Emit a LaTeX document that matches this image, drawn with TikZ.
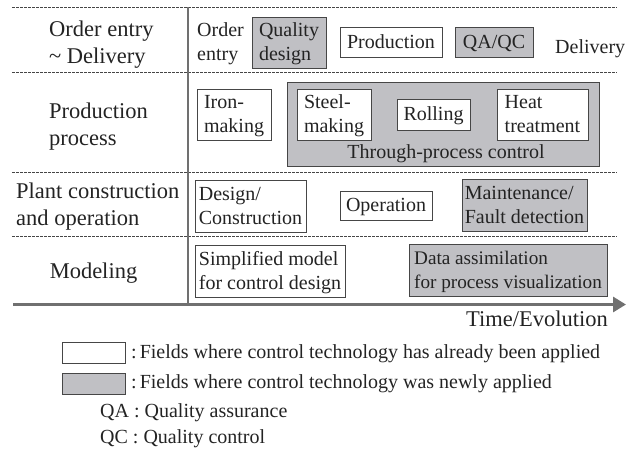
\documentclass[tikz,border=0pt]{standalone}
\usepackage{fontspec}
\setmainfont{Liberation Serif}
\usetikzlibrary{arrows.meta}
\definecolor{boxgray}{RGB}{192,192,196}
\definecolor{linegray}{RGB}{112,112,112}
\definecolor{edgegray}{RGB}{70,70,70}
\definecolor{txt}{RGB}{35,35,35}
\newcommand\tstr{\rule{0pt}{19.8pt}}
\begin{document}
\begin{tikzpicture}[x=1pt,y=-1pt,
  lab/.style={font=\fontsize{22.5}{27}\selectfont, text=txt, inner sep=0pt, align=left},
  btxt/.style={font=\fontsize{20}{24}\selectfont, text=txt, inner sep=0pt, align=left},
  leg/.style={font=\fontsize{20}{24}\selectfont, text=txt, inner sep=0pt},
  wshape/.style={draw=edgegray, line width=1pt, fill=white, inner sep=0pt},
  gshape/.style={draw=edgegray, line width=1pt, fill=boxgray, inner sep=0pt},
  wbox/.style={wshape, btxt},
  gbox/.style={gshape, btxt},
  sepline/.style={draw=edgegray, line width=0.7pt, dash pattern=on 2.5pt off 1.5pt},
]
\useasboundingbox (0,0) rectangle (631,450);

% row separators
\foreach \yy in {7,72,172,236} \draw[sepline] (12,\yy) -- (617,\yy);

% axes
\coordinate (vtop) at (188,7);
\coordinate (vbot) at (188,305);
\coordinate (hst) at (13,304.5);
\coordinate (hend) at (626,304.5);
\draw[linegray, line width=2.2pt] (vtop) -- (vbot);
\draw[linegray, line width=3pt, -{Triangle[length=13pt,width=15pt]}] (hst) -- (hend);

% left labels
\node[lab, anchor=north west] (l1) at (49,17.1) {\strut Order entry\\\strut\textasciitilde\ Delivery};
\node[lab, anchor=north west] (l2) at (49,99.1) {\strut Production\\\strut process};
\node[lab, anchor=north west] (l3) at (16,179.1) {\strut Plant construction\\\strut and operation};
\node[lab, anchor=base] (l4) at (93.5,278) {Modeling};
\node[lab, anchor=base east] (te) at (608,326) {Time/Evolution};

% row 1
\node[btxt, anchor=north west] (oe) at (197,19.2) {\strut Order\\\strut entry};
\node[gbox, minimum width=74pt, minimum height=51pt] (qd) at (289,42.5) {\tstr Quality\\\strut design};
\node[wbox, minimum width=102pt, minimum height=30pt] (prod) at (391,42) {\tstr\strut Production};
\node[gbox, minimum width=78pt, minimum height=30pt] (qaqc) at (494,42) {\tstr\strut QA/QC};
\node[btxt, anchor=base west] (deliv) at (555,53) {Delivery};

% row 2
\node[wbox, minimum width=74pt, minimum height=51pt] (iron) at (234,114.5) {\tstr Iron-\\\strut making};
\node[gshape, minimum width=312pt, minimum height=84pt] (tpc) at (443,124) {};
\node[wbox, minimum width=74pt, minimum height=51pt] (steel) at (334,114.5) {\tstr Steel-\\\strut making};
\node[wbox, minimum width=73pt, minimum height=31pt] (roll) at (433.5,114.5) {\tstr\strut Rolling};
\node[wbox, minimum width=91pt, minimum height=51pt] (heat) at (542.5,114.5) {\tstr Heat\\\strut treatment};
\node[btxt, anchor=base] (tpcl) at (446,158) {Through-process control};

% row 3
\node[wbox, minimum width=111pt, minimum height=52pt] (des) at (250.5,206) {\tstr Design/\\\strut Construction};
\node[wbox, minimum width=92pt, minimum height=29pt] (oper) at (386,205.5) {\tstr\strut Operation};
\node[gbox, minimum width=125pt, minimum height=52pt] (maint) at (524.5,205) {\tstr Maintenance/\\\strut Fault detection};

% row 4
\node[wbox, minimum width=150pt, minimum height=52pt] (simp) at (270,271) {\tstr Simplified model\\\strut for control design};
\node[gbox, minimum width=198pt, minimum height=52pt, font=\fontsize{19.2}{24}\selectfont] (data) at (508,270) {\tstr Data assimilation\\\strut for process visualization};

% legend
\node[wshape, minimum width=63pt, minimum height=21pt] (lw) at (93.5,352.5) {};
\node[gshape, minimum width=63pt, minimum height=21pt] (lg) at (93.5,383.5) {};
\node[leg, anchor=base west] (lt1) at (131,358) {:\hspace{3pt}Fields where control technology has already been applied};
\node[leg, anchor=base west] (lt2) at (131,388.5) {:\hspace{3pt}Fields where control technology was newly applied};
\node[leg, anchor=base west] (qa) at (100,417) {QA : Quality assurance};
\node[leg, anchor=base west] (qc) at (100,443) {QC : Quality control};
\end{tikzpicture}
\end{document}
